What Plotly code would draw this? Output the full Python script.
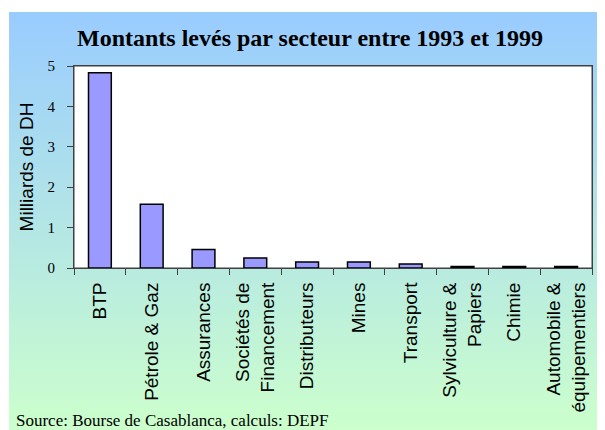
import base64
import plotly.graph_objects as go

# ---- data ----
categories = ["BTP", "Pétrole & Gaz", "Assurances", "Sociétés de<br>Financement",
              "Distributeurs", "Mines", "Transport", "Sylviculture &<br>Papiers",
              "Chimie", "Automobile &<br>équipementiers"]
values = [4.83, 1.58, 0.46, 0.25, 0.15, 0.15, 0.10, 0.04, 0.04, 0.04]
y_ticks = [0, 1, 2, 3, 4, 5]
title_text = "Montants levés par secteur entre 1993 et 1999"
y_title = "Milliards de DH"
source_text = "Source: Bourse de Casablanca, calculs: DEPF"

# page has an 8px body margin, so the figure is drawn 8px in from the corner
OFF = 8
W, H = 605 - OFF, 430 - OFF
L, R, T, B = 74 - OFF, 605 - 592, 66 - OFF, 430 - 268
pw, ph = W - L - R, H - T - B

bx, by = 9 - OFF, 12 - OFF   # gradient frame top-left (figure px)
bw, bh = W - bx, H - by
svg = ('<svg xmlns="http://www.w3.org/2000/svg" width="%d" height="%d" preserveAspectRatio="none">'
       '<defs><linearGradient id="g" x1="0" y1="0" x2="0" y2="1">'
       '<stop offset="0" stop-color="#99CCFF"/><stop offset="1" stop-color="#CCFFCC"/>'
       '</linearGradient></defs><rect width="%d" height="%d" fill="url(#g)"/></svg>') % (bw, bh, bw, bh)
bg_src = "data:image/svg+xml;base64," + base64.b64encode(svg.encode()).decode()

fig = go.Figure(go.Bar(
    x=categories, y=values,
    marker=dict(color="#9999FF", line=dict(color="#000000", width=1.5)),
    width=0.44,
))

serif = "Liberation Serif, Times New Roman, serif"
sans = "Liberation Sans, Arial, sans-serif"

fig.update_layout(
    width=W, height=H,
    margin=dict(l=L, r=R, t=T, b=B, autoexpand=False),
    paper_bgcolor="white", plot_bgcolor="white",
    showlegend=False,
    title=dict(text=title_text, x=(310 - OFF) / W, xref="container", xanchor="center",
               y=1 - (38 - OFF) / H, yref="container", yanchor="middle",
               font=dict(family=serif, size=24, color="black", weight="bold")),
    images=[dict(source=bg_src, xref="paper", yref="paper",
                 x=(bx - L) / pw, y=1 + (T - by) / ph,
                 sizex=bw / pw, sizey=bh / ph,
                 xanchor="left", yanchor="top", sizing="stretch", layer="below")],
    shapes=[dict(type="rect", xref="paper", yref="paper", x0=0, x1=1, y0=0, y1=1,
                 fillcolor="white", line=dict(color="#404040", width=1), layer="below")],
    annotations=[dict(text=source_text, xref="paper", yref="paper",
                      x=(14 - OFF - L) / pw, y=-(420 - 268) / ph,
                      xanchor="left", yanchor="middle", showarrow=False,
                      font=dict(family=serif, size=17, color="black"))],
)

fig.update_xaxes(
    type="category", tickson="boundaries", ticks="outside", ticklen=6,
    tickcolor="#404040", showline=True, linecolor="#404040", linewidth=1, mirror=True,
    tickangle=-90, tickfont=dict(family=sans, size=19, color="black"),
    ticklabelstandoff=6, showgrid=False, automargin=False,
)
fig.update_yaxes(
    range=[0, 5], tickvals=y_ticks, ticks="outside", ticklen=6, tickcolor="#404040",
    showline=True, linecolor="#404040", linewidth=1, mirror=True, showgrid=False,
    zeroline=False, tickfont=dict(family=serif, size=15, color="black"),
    ticklabelstandoff=9, automargin=False,
    title=dict(text=y_title, font=dict(family=sans, size=19, color="black"), standoff=8),
)

fig.write_html("out.html")
